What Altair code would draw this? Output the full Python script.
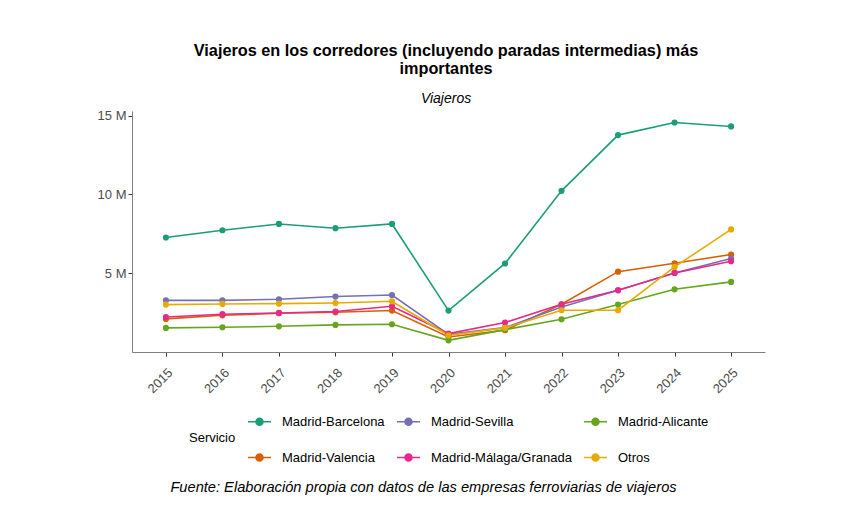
import altair as alt
import pandas as pd

years = ["2015", "2016", "2017", "2018", "2019", "2020", "2021", "2022", "2023", "2024", "2025"]

# Viajeros (millones)
barcelona = [7.27, 7.73, 8.13, 7.86, 8.13, 2.63, 5.62, 10.23, 13.77, 14.57, 14.32]
valencia = [2.10, 2.33, 2.46, 2.52, 2.63, 0.95, 1.38, 3.03, 5.10, 5.63, 6.19]
sevilla = [3.28, 3.28, 3.35, 3.52, 3.62, 1.12, 1.55, 2.86, 3.92, 5.02, 5.93]
malaga = [2.22, 2.40, 2.48, 2.57, 2.90, 1.17, 1.87, 3.03, 3.92, 5.02, 5.76]
alicante = [1.53, 1.57, 1.63, 1.72, 1.76, 0.74, 1.42, 2.08, 3.01, 3.98, 4.45]
otros = [3.01, 3.05, 3.07, 3.11, 3.22, 1.06, 1.53, 2.65, 2.65, 5.40, 7.78]

series = [
    ("Madrid-Barcelona", barcelona),
    ("Madrid-Valencia", valencia),
    ("Madrid-Sevilla", sevilla),
    ("Madrid-Málaga/Granada", malaga),
    ("Madrid-Alicante", alicante),
    ("Otros", otros),
]

legend_order = ["Madrid-Barcelona", "Madrid-Sevilla", "Madrid-Alicante",
                "Madrid-Valencia", "Madrid-Málaga/Granada", "Otros"]
legend_colors = ["#1B9E77", "#7570B3", "#66A61E", "#D95F02", "#E7298A", "#E6AB02"]

rows = []
for name, vals in series:
    for y, v in zip(years, vals):
        rows.append({"Año": y, "Viajeros": v, "Servicio": name})
df = pd.DataFrame(rows)

FONT = "Liberation Sans"

color = alt.Color(
    "Servicio:N",
    scale=alt.Scale(domain=legend_order, range=legend_colors),
    legend=alt.Legend(
        orient="none", legendX=57, legendY=301,
        direction="horizontal", columns=3,
        title="Servicio", titleOrient="left", titleAnchor="middle",
        titleFontWeight="normal", titleFontSize=13, titleColor="#000000",
        labelFontSize=13, labelColor="#000000", titlePadding=14,
        symbolType="M-1.4,0L1.4,0M-0.42,0a0.42,0.42 0 1,0 0.84,0a0.42,0.42 0 1,0 -0.84,0",
        symbolSize=270, symbolStrokeWidth=1.6, columnPadding=8, rowPadding=19,
        labelOffset=13,
    ),
)

x = alt.X("Año:O", title=None, sort=years,
          scale=alt.Scale(padding=0.6),
          axis=alt.Axis(labelAngle=-45, labelAlign="right", labelBaseline="top",
                        labelFontSize=13, labelColor="#4D4D4D", labelPadding=10,
                        tickColor="#333333", tickSize=4, domainColor="#7F7F7F",
                        labelFont=FONT))
y = alt.Y("Viajeros:Q", title=None,
          scale=alt.Scale(domain=[0, 15.3], nice=False, zero=False),
          axis=alt.Axis(values=[5, 10, 15], labelExpr="datum.value + ' M'",
                        labelFontSize=13, labelColor="#4D4D4D", grid=False,
                        tickColor="#333333", tickSize=4, domainColor="#7F7F7F",
                        labelPadding=2, labelFont=FONT))

base = alt.Chart(df).encode(x=x, y=y, color=color)
lines = base.mark_line(strokeWidth=1.6)
points = base.mark_point(filled=True, size=38, opacity=1)

inner = alt.layer(lines, points).properties(
    width=633, height=241,
    title=alt.Title(
        "Fuente: Elaboración propia con datos de las empresas ferroviarias de viajeros",
        orient="bottom", anchor="middle", fontStyle="italic", fontWeight="normal",
        fontSize=14.65, font=FONT, color="#000000", offset=15, dx=-25,
    ),
)

chart = alt.vconcat(inner).resolve_legend(color="independent").properties(
    title=alt.Title(
        ["Viajeros en los corredores (incluyendo paradas intermedias) más", "importantes"],
        subtitle="Viajeros", anchor="middle", font=FONT, fontSize=16.25,
        fontWeight="bold", color="#000000", lineHeight=18,
        subtitleFont=FONT, subtitleFontSize=14, subtitleFontStyle="italic",
        subtitleColor="#000000", subtitlePadding=14, offset=4, dx=15,
    ),
    padding={"left": 89, "top": 35, "right": 10, "bottom": 5},
).configure(font=FONT).configure_view(stroke=None)

chart.save("out.html", embed_options={"renderer": "svg", "actions": False})
